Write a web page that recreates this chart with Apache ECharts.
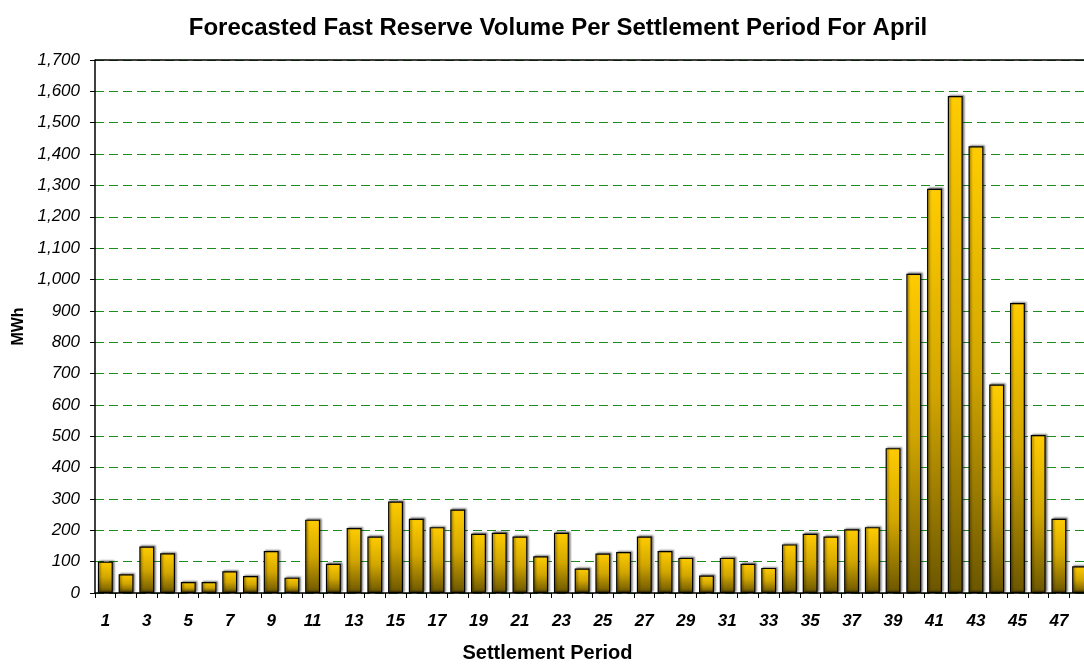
<!DOCTYPE html>
<html>
<head>
<meta charset="utf-8">
<script src="https://cdn.jsdelivr.net/npm/echarts@6/dist/echarts.min.js"></script>
<style>html,body{margin:0;padding:0;background:#fff}#c{width:1084px;height:664px}</style>
</head>
<body>
<div id="c"></div>
<script>
const periods = Array.from({length: 48}, (_, i) => String(i + 1));
const volumes = [100, 60, 148, 127, 35, 35, 69, 54, 134, 49,
  234, 93, 207, 180, 292, 237, 210, 266, 189, 192,
  180, 117, 192, 78, 126, 131, 180, 134, 112, 56,
  112, 93, 80, 155, 189, 180, 203, 210, 462, 1018,
  1289, 1585, 1425, 665, 925, 504, 237, 85];
const yTicks = {min: 0, max: 1700, interval: 100};

const FONT = 'Liberation Sans, Arial, sans-serif';
const chart = echarts.init(document.getElementById('c'));
chart.setOption({
  animation: false,
  backgroundColor: '#ffffff',
  title: {
    text: 'Forecasted Fast Reserve Volume Per Settlement Period For April',
    left: 553, top: 11, textAlign: 'center',
    textStyle: {fontFamily: FONT, fontSize: 24, fontWeight: 'bold', color: '#000'}
  },
  grid: {left: 95, top: 60, right: -6, bottom: 71, containLabel: false, outerBoundsMode: 'none'},
  xAxis: {
    type: 'category', data: periods,
    name: 'Settlement Period', nameLocation: 'middle', nameGap: 50,
    nameTextStyle: {fontFamily: FONT, fontSize: 20, fontWeight: 'bold', color: '#000', padding: [0, 90, 0, 0]},
    axisLine: {lineStyle: {color: '#000', width: 1.5}},
    axisTick: {show: true, alignWithLabel: false, interval: 0, length: 5, lineStyle: {color: '#000'}},
    axisLabel: {interval: 1, margin: 20, fontFamily: FONT, fontSize: 17, fontStyle: 'italic', fontWeight: 'bold', color: '#000'}
  },
  yAxis: {
    type: 'value', min: yTicks.min, max: yTicks.max, interval: yTicks.interval,
    name: 'MWh', nameLocation: 'middle', nameGap: 65, nameRotate: 90,
    nameTextStyle: {fontFamily: FONT, fontSize: 16, fontWeight: 'bold', color: '#000'},
    axisLine: {show: true, lineStyle: {color: '#000', width: 1.5}},
    axisTick: {show: true, length: 5, lineStyle: {color: '#000'}},
    axisLabel: {margin: 15, fontFamily: FONT, fontSize: 17, fontStyle: 'italic', color: '#000',
      formatter: v => v.toLocaleString('en-US')},
    splitLine: {show: true, lineStyle: {color: '#1e8c1e', type: [9, 5], width: 1.2, opacity: 1}}
  },
  series: [{
    type: 'bar', data: volumes, barCategoryGap: '28%',
    itemStyle: {
      color: new echarts.graphic.LinearGradient(0, 0, 0, 1, [
        {offset: 0, color: '#ffcc00'},
        {offset: 0.5, color: '#d2a600'},
        {offset: 1, color: '#6b5600'}
      ]),
      borderColor: '#000', borderWidth: 1.2,
      shadowColor: 'rgba(0,0,0,0.45)', shadowBlur: 2, shadowOffsetX: 1.5, shadowOffsetY: -1
    }
  }],
  graphic: [{
    type: 'line', shape: {x1: 95, y1: 60, x2: 1084, y2: 60},
    style: {stroke: '#000', lineWidth: 1.5}, z: 10
  }]
});
</script>
</body>
</html>
